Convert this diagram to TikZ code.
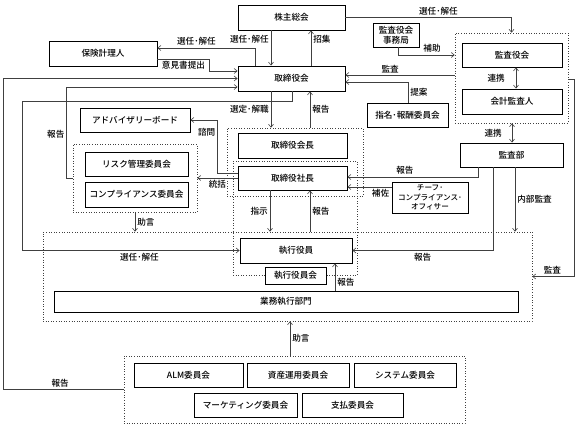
\documentclass[tikz,border=0pt]{standalone}
\usepackage{fontspec}
\setmainfont{Noto Sans CJK JP}[UprightFont=* Medium]
\usetikzlibrary{positioning, arrows.meta}
\tikzset{
>={Straight Barb[length=3pt,width=5pt]}, % open arrow heads
box/.style={draw, fill=white, line width=0.9pt, minimum height=25pt, inner sep=1pt}, % solid boxes
group/.style={draw=black!75, dotted, line width=0.6pt, inner sep=0pt}, % dotted groupings
conn/.style={->, draw=black!75, line width=0.6pt}, % connectors
lbl/.style={inner sep=2pt}, % labels on connectors
}

\begin{document}
\begin{tikzpicture}[x=1pt, y=-1pt, font=\fontsize{8.6}{10}\selectfont]
        \useasboundingbox (0,0) rectangle (578,427);

        % dotted groups
        \node[group, minimum width=113pt, minimum height=90pt] (kansagrp) at (511.5,78) {};
        \node[group, minimum width=136pt, minimum height=68pt] (topgrp) at (295,162) {};
        \node[group, minimum width=124pt, minimum height=114pt] (execgrp) at (295,218) {};
        \node[group, minimum width=124pt, minimum height=68pt] (riskgrp) at (135,178) {};
        \node[group, minimum width=489pt, minimum height=89pt] (biggrp) at (287.5,276.5) {};
        \node[group, minimum width=341pt, minimum height=67pt] (botgrp) at (294.5,389.5) {};

        % boxes
        \node[box, minimum width=107pt] (kabu) at (291.5,17.5) {株主総会};
        \node[box, minimum width=108pt] (hoken) at (103,53.5) {保険計理人};
        \node[box, minimum width=107pt] (tori) at (291.5,78.5) {取締役会};
        \node[box, minimum width=46pt, minimum height=24pt, align=center, font=\fontsize{8.6}{9.5}\selectfont] (jimu) at (396,35) {監査役会\\事務局};
        \node[box, minimum width=100pt, minimum height=24pt] (kansa) at (512,55) {監査役会};
        \node[box, minimum width=100pt] (kaikei) at (512,101.5) {会計監査人};
        \node[box, minimum width=81pt, minimum height=24pt] (shimei) at (407.5,115) {指名･報酬委員会};
        \node[box, minimum width=110pt, minimum height=24pt] (advisory) at (135,120) {アドバイザリーボード};
        \node[box, minimum width=109pt] (kaicho) at (292.5,145.5) {取締役会長};
        \node[box, minimum width=109pt, minimum height=24pt] (shacho) at (292.5,178) {取締役社長};
        \node[box, minimum width=103pt, minimum height=24pt] (risk) at (136.5,164) {リスク管理委員会};
        \node[box, minimum width=103pt] (comp) at (136.5,194.5) {コンプライアンス委員会};
        \node[box, minimum width=103pt, minimum height=24pt] (kansabu) at (511.5,155) {監査部};
        \node[box, minimum width=76pt, minimum height=31pt, align=center, font=\fontsize{7.6}{9.6}\selectfont] (cco) at (430,197.5) {チーフ･\\コンプライアンス･\\オフィサー};
        \node[box, minimum width=112pt] (shikkou) at (296,250.5) {執行役員};
        \node[box, minimum width=61pt, minimum height=17pt] (shikkoukai) at (295.5,275.5) {執行役員会};
        \node[box, minimum width=464pt, minimum height=21pt] (gyomu) at (286,301.5) {業務執行部門};
        \node[box, minimum width=109pt, minimum height=24pt] (alm) at (188.5,375) {ALM委員会};
        \node[box, minimum width=102pt, minimum height=24pt] (shisan) at (298,375) {資産運用委員会};
        \node[box, minimum width=102pt, minimum height=24pt] (system) at (405,375) {システム委員会};
        \node[box, minimum width=103pt, minimum height=24pt] (marketing) at (245.5,405) {マーケティング委員会};
        \node[box, minimum width=101pt, minimum height=24pt] (shiharai) at (352.5,405) {支払委員会};

        % shareholders and board
        \draw[conn] ([xshift=-20.5pt]kabu.south) -- ([xshift=-20.5pt]tori.north) node[lbl, pos=0.25, left] {選任･解任};
        \draw[conn] ([xshift=19.5pt]tori.north) -- ([xshift=19.5pt]kabu.south) node[lbl, pos=0.75, right] {招集};
        \draw[conn] ([xshift=-36.5pt]tori.north) |- ([yshift=5.5pt]hoken.east) node[lbl, pos=0.8, above] {選任･解任};
        \draw[conn] ([yshift=-5.5pt]hoken.east) -- ++(52,0) node[lbl, midway, below] {意見書提出} |- ([yshift=7.5pt]tori.west);
        \draw[conn] (botgrp.west) -- ++(-120,0) node[lbl, pos=0.53, above] {報告} |- (tori.west);
        \draw[conn] (riskgrp.west) -- ++(-6,0) |- ([yshift=-8.5pt]tori.west) node[lbl, pos=0.24, left] {報告};
        \draw[conn] ([xshift=0.5pt]tori.south) |- ++(-270,10) |- (shikkou.west) node[lbl, pos=0.77, below] {選任･解任};
        \draw[conn] ([xshift=-20.5pt]tori.south) -- ([xshift=-24pt]topgrp.north) node[lbl, midway, left] {選定･解職};
        \draw[conn] ([xshift=15pt]topgrp.north) -- ([xshift=18.5pt]tori.south) node[lbl, midway, right] {報告};

        % audit side
        \draw[conn] ([yshift=3pt]kansagrp.west) -- ([yshift=3.5pt]tori.east) node[lbl, pos=0.59, above] {監査};
        \draw[conn] ([xshift=0.5pt]shimei.north) |- ([yshift=-3.5pt]tori.east) node[lbl, pos=0.25, right] {提案};
        \draw[conn] ([xshift=2pt]jimu.south) |- ([yshift=23pt]kansagrp.west) node[lbl, pos=0.8, above] {補助};
        \draw[conn] (kabu.east) -| (kansagrp.north) node[lbl, pos=0.28, above] {選任･解任};
        \draw[conn, <->] ([xshift=4pt]kansa.south) -- ([xshift=4pt]kaikei.north) node[lbl, midway, left=9pt] {連携};
        \draw[conn, <->] ([xshift=0.5pt]kansagrp.south) -- ([xshift=0.5pt]kansabu.north) node[lbl, midway, left=8pt] {連携};
        \draw[conn] ([xshift=-33.5pt]kansabu.south) |- ([yshift=1pt]shacho.east) node[lbl, pos=0.78, above] {報告};
        \draw[conn] ([yshift=10.5pt]cco.west) -- ([yshift=-9pt]shacho.east) node[lbl, pos=0.25, below] {補佐};
        \draw[conn] ([xshift=3.5pt]kansabu.south) -- ([xshift=227.5pt]biggrp.north) node[lbl, midway, right] {内部監査};
        \draw[conn] ([yshift=-1pt]kansagrp.east) -- ++(6,0) |- (biggrp.east) node[lbl, pos=0.76, above] {監査};
        \draw[conn] ([xshift=-18.5pt]kansabu.south) |- (shikkou.east) node[lbl, pos=0.75, below] {報告};

        % execution side
        \draw[conn] ([xshift=-22.5pt]shacho.south) -- ([xshift=-17.5pt]biggrp.north) node[lbl, midway, left] {指示};
        \draw[conn] ([xshift=22.5pt]biggrp.north) -- ([xshift=17.5pt]shacho.south) node[lbl, midway, right] {報告};
        \draw[conn] ([xshift=49pt]gyomu.north) -- ([xshift=39pt]shikkou.south) node[lbl, pos=0.3, right] {報告};
        \draw[conn] ([yshift=5pt]shacho.west) -- ++(-20,0) |- (advisory.east) node[lbl, pos=0.38, left] {諮問};
        \draw[conn] (shacho.west) -- (riskgrp.east) node[lbl, midway, below] {統括};
        \draw[conn] (riskgrp.south) -- ([xshift=-152.5pt]biggrp.north) node[lbl, midway, right] {助言};
        \draw[conn] ([xshift=-4.5pt]botgrp.north) -- ([xshift=2.5pt]biggrp.south) node[lbl, midway, right] {助言};
    \end{tikzpicture}
\end{document}
